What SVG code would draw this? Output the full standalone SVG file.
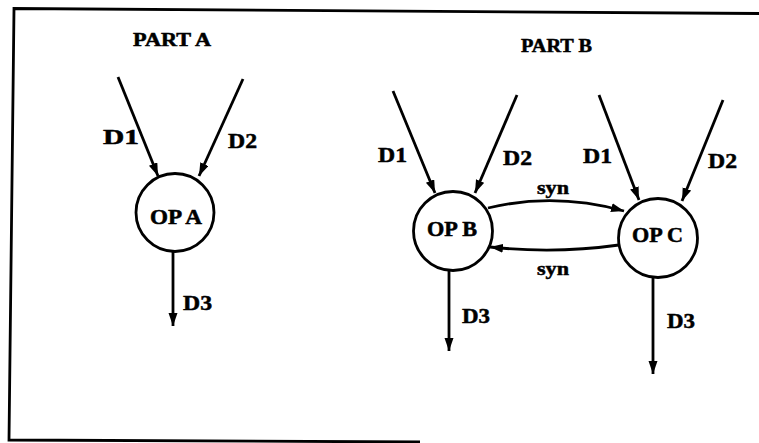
<svg xmlns="http://www.w3.org/2000/svg" width="759" height="443" viewBox="0 0 759 443">
<style>
.t{font-family:"Liberation Serif","Times New Roman",serif;font-weight:bold;fill:#000;stroke:#000;stroke-width:0.5}
.h{font-size:18px}
.n{font-size:20px}
.d{font-size:21px}
.s{font-size:19px}
.node{fill:#fff;stroke:#000;stroke-width:2.8}
.c{fill:none;stroke:#000;stroke-width:2.8}
</style>
<defs>
<marker id="ah" markerUnits="userSpaceOnUse" markerWidth="14" markerHeight="10" refX="13" refY="4.5" orient="auto">
<path d="M0,0 L13,4.5 L0,9 z" fill="#000"/>
</marker>
</defs>
<rect width="759" height="443" fill="#fff"/>
<polyline points="759,13.5 14,8.5 9,440 420,442" fill="none" stroke="#000" stroke-width="2.8"/>
<text class="t h" x="133" y="46" textLength="78" lengthAdjust="spacingAndGlyphs">PART A</text>
<text class="t h" x="521" y="52" textLength="71" lengthAdjust="spacingAndGlyphs">PART B</text>
<g id="connectors">
<line class="c" x1="118" y1="77" x2="158" y2="176" marker-end="url(#ah)"/>
<line class="c" x1="243" y1="79" x2="199" y2="176" marker-end="url(#ah)"/>
<line class="c" x1="173" y1="252" x2="173" y2="326" marker-end="url(#ah)"/>
<line class="c" x1="393" y1="91" x2="435" y2="193" marker-end="url(#ah)"/>
<line class="c" x1="517" y1="95" x2="475" y2="193" marker-end="url(#ah)"/>
<line class="c" x1="599" y1="95" x2="639" y2="200" marker-end="url(#ah)"/>
<line class="c" x1="723" y1="100" x2="682" y2="201" marker-end="url(#ah)"/>
<line class="c" x1="449" y1="271" x2="449" y2="351" marker-end="url(#ah)"/>
<line class="c" x1="653" y1="278" x2="653" y2="374" marker-end="url(#ah)"/>
<path class="c" d="M488,208 Q555,192 624,211" marker-end="url(#ah)"/>
<path class="c" d="M619,245 Q555,254 490,247" marker-end="url(#ah)"/>
<text class="t d" x="103" y="144" textLength="36" lengthAdjust="spacingAndGlyphs">D1</text>
<text class="t d" x="228" y="148" textLength="29" lengthAdjust="spacingAndGlyphs">D2</text>
<text class="t d" x="183" y="310" textLength="29" lengthAdjust="spacingAndGlyphs">D3</text>
<text class="t d" x="378" y="162" textLength="29" lengthAdjust="spacingAndGlyphs">D1</text>
<text class="t d" x="503" y="165" textLength="29" lengthAdjust="spacingAndGlyphs">D2</text>
<text class="t d" x="583" y="163" textLength="29" lengthAdjust="spacingAndGlyphs">D1</text>
<text class="t d" x="708" y="168" textLength="29" lengthAdjust="spacingAndGlyphs">D2</text>
<text class="t d" x="462" y="323" textLength="28" lengthAdjust="spacingAndGlyphs">D3</text>
<text class="t d" x="667" y="328" textLength="28" lengthAdjust="spacingAndGlyphs">D3</text>
<text class="t s" x="537" y="194" textLength="32" lengthAdjust="spacingAndGlyphs">syn</text>
<text class="t s" x="537" y="275" textLength="32" lengthAdjust="spacingAndGlyphs">syn</text>
</g>
<g id="opA">
<circle class="node" cx="175" cy="212.5" r="39"/>
<text class="t n" x="150" y="224" textLength="52" lengthAdjust="spacingAndGlyphs">OP A</text>
</g>
<g id="opB">
<circle class="node" cx="453" cy="231" r="39.5"/>
<text class="t n" x="427" y="236" textLength="50" lengthAdjust="spacingAndGlyphs">OP B</text>
</g>
<g id="opC">
<circle class="node" cx="658" cy="238" r="39.5"/>
<text class="t n" x="632" y="242" textLength="51" lengthAdjust="spacingAndGlyphs">OP C</text>
</g>
</svg>
